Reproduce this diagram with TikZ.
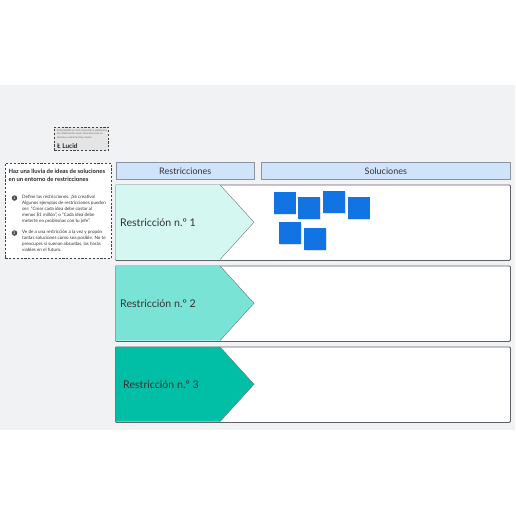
\documentclass[tikz,border=0pt]{standalone}
\usepackage{fontspec}
\setmainfont{Lato}
\definecolor{bg}{HTML}{F1F2F4}
\definecolor{hdr}{HTML}{CFE4FB}
\definecolor{hdrline}{HTML}{8C929C}
\definecolor{mintA}{HTML}{D5F7F1}
\definecolor{mintB}{HTML}{79E3D6}
\definecolor{mintC}{HTML}{00BFA6}
\definecolor{sticky}{HTML}{1273E3}
\definecolor{txt}{HTML}{333333}
\definecolor{rowline}{HTML}{5E6166}
\tikzset{
  hdrbox/.style={draw=hdrline, line width=0.6pt, fill=hdr, inner sep=0pt, font=\fontsize{9}{10}\selectfont, text=txt},
  rowbox/.style={draw=rowline, line width=0.8pt, fill=white, rounded corners=1pt, inner sep=0pt},
  rowlabel/.style={anchor=west, font=\fontsize{10.6}{12}\selectfont, text=txt, inner sep=0pt},
  stickynote/.style={fill=sticky, minimum width=22pt, minimum height=22pt, inner sep=0pt},
  stickyshadow/.style={fill=black, opacity=0.12, minimum width=22pt, minimum height=22pt, inner sep=0pt},
  dashbox/.style={draw=black!75, dashed, dash pattern=on 2.2pt off 1.6pt, line width=0.6pt},
  stepnum/.style={circle, fill=black!70, minimum size=5.5pt, inner sep=0pt, font=\fontsize{3.5}{3.5}\selectfont\bfseries, text=white},
  steptext/.style={anchor=north west, align=left, inner sep=0pt, font=\fontsize{4.55}{6}\selectfont, text=txt}
}
\begin{document}
\begin{tikzpicture}[x=1pt,y=-1pt]
\useasboundingbox[fill=white] (0,0) rectangle (516,516);
\fill[bg] (0,85) rectangle (515,430);

% credit box
\node[dashbox, fill=black!10, minimum width=54pt, minimum height=23pt, anchor=north west, inner sep=0pt] (credit) at (54,127) {};
\node[anchor=north west, align=left, inner sep=0pt, font=\fontsize{2.55}{3.3}\selectfont, text=black!60] (credittext) at (57,129.5)
  {Esta plantilla se creó con Lucid, la plataforma\\ de colaboración visual. Descubre más en\\ lucid.co y comienza hoy mismo.};
\node[anchor=west, inner sep=0pt, font=\fontsize{6.5}{7}\selectfont\bfseries, text=black!85] (lucid) at (57,146) {Ł Lucid};

% instruction box
\node[dashbox, fill=white, minimum width=106pt, minimum height=95pt, anchor=north west, inner sep=0pt] (instr) at (5,163) {};
\node[anchor=north west, align=left, inner sep=0pt, font=\fontsize{5.9}{8}\selectfont\bfseries, text=black!85] (title) at (8.5,168.5)
  {Haz una lluvia de ideas de soluciones\\ en un entorno de restricciones};
\node[stepnum] (n1) at (14.5,198) {1};
\node[steptext] (s1) at (22,195.3)
  {Define las restricciones. ¡Sé creativo!\\ Algunos ejemplos de restricciones pueden\\ ser: “Crear cada idea debe costar al\\ menos \$1 millón”, o “Cada idea debe\\ meterte en problemas con tu jefe”.};
\node[stepnum] (n2) at (14.5,233) {2};
\node[steptext] (s2) at (22,230.3)
  {Ve de a una restricción a la vez y propón\\ tantas soluciones como sea posible. No te\\ preocupes si suenan absurdas, las harás\\ viables en el futuro.};

% headers
\node[hdrbox, minimum width=138pt, minimum height=17pt, anchor=north west] (hr) at (116,162) {Restricciones};
\node[hdrbox, minimum width=249pt, minimum height=17pt, anchor=north west] (hs) at (261,162) {Soluciones};

% rows
\foreach \i/\top/\col in {1/184.5/mintA, 2/265.5/mintB, 3/346.5/mintC}{
  \node[rowbox, minimum width=395pt, minimum height=75.5pt, anchor=north west] (row\i) at (115,\top) {};
  \fill[\col] (115.4,\top+0.4) -- (220,\top+0.4) -- (254,\top+37.75) -- (220,\top+75.1) -- (115.4,\top+75.1) -- cycle;
  \draw[black!55, line width=0.4pt] (220,\top+0.4) -- (254,\top+37.75) -- (220,\top+75.1);
}
\node[rowlabel] (l1) at (120,222.5) {Restricción n.º 1};
\node[rowlabel] (l2) at (120,303.5) {Restricción n.º 2};
\node[rowlabel] (l3) at (123,384.5) {Restricción n.º 3};

% sticky notes
\foreach \n/\x/\y in {a/284.5/202.5, b/309.2/208, c/334.2/202, d/358.8/208, e/290/233, f/315/239}{
  \node[stickyshadow] at (\x+0.6,\y+1.3) {};
  \node[stickynote] (st\n) at (\x,\y) {};
}
\end{tikzpicture}
\end{document}
